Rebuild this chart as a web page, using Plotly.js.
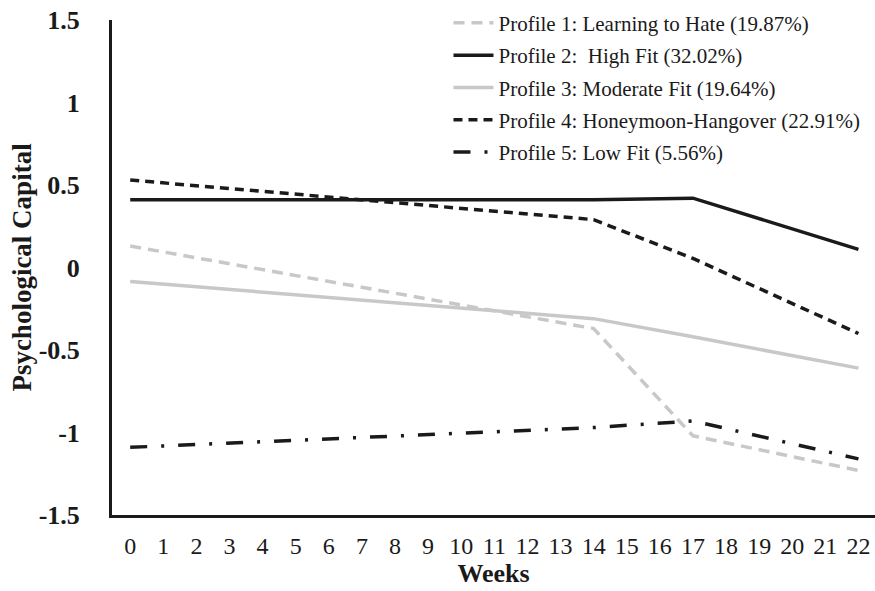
<!DOCTYPE html>
<html>
<head>
<meta charset="utf-8">
<script src="https://cdn.plot.ly/plotly-3.0.1.min.js"></script>
<style>html,body{margin:0;padding:0;background:#fff;}#chart{width:875px;height:591px;}</style>
</head>
<body>
<div id="chart"></div>
<script>
var weeks = [0, 14, 17, 22];
var tickWeeks = [0,1,2,3,4,5,6,7,8,9,10,11,12,13,14,15,16,17,18,19,20,21,22];
var seriesNames = [
  "Profile 1: Learning to Hate (19.87%)",
  "Profile 2:  High Fit (32.02%)",
  "Profile 3: Moderate Fit (19.64%)",
  "Profile 4: Honeymoon-Hangover (22.91%)",
  "Profile 5: Low Fit (5.56%)"
];
var profile1 = [0.13, -0.37, -1.02, -1.23];
var profile2 = [0.41, 0.41, 0.42, 0.11];
var profile3 = [-0.085, -0.31, -0.42, -0.61];
var profile4 = [0.53, 0.29, 0.055, -0.40];
var profile5 = [-1.09, -0.97, -0.93, -1.16];

var styles = [
  {color: "#c8c8c8", width: 3.5, dash: "11px,7px"},
  {color: "#1a1a1a", width: 3.5, dash: "solid"},
  {color: "#c8c8c8", width: 3.5, dash: "solid"},
  {color: "#1a1a1a", width: 3.5, dash: "9px,6px"},
  {color: "#1a1a1a", width: 3.5, dash: "17px,14px,3px,14px"}
];
var values = [profile1, profile2, profile3, profile4, profile5];
var traces = values.map(function(v, i){
  return {x: weeks, y: v, type: "scatter", mode: "lines", name: seriesNames[i],
          legendgroup: "g" + i, line: styles[i]};
});

var layout = {
  width: 875, height: 591,
  margin: {l: 112, r: 0, t: 20, b: 76},
  paper_bgcolor: "#fff", plot_bgcolor: "#fff",
  font: {family: "Liberation Serif, Times New Roman, serif", color: "#1a1a1a"},
  showlegend: true,
  legend: {x: 0.441, y: 1.035, xanchor: "left", yanchor: "top", bgcolor: "rgba(0,0,0,0)",
           font: {size: 21, family: "Liberation Serif, serif", color: "#1a1a1a"},
           tracegroupgap: 2, itemwidth: 40, traceorder: "grouped", borderwidth: 0},
  xaxis: {
    automargin: false,
    range: [-0.55, 22.5], tickmode: "array", tickvals: tickWeeks, ticktext: tickWeeks.map(String),
    showgrid: false, zeroline: false, showline: true, linecolor: "#1a1a1a", linewidth: 3,
    ticks: "", ticklabelstandoff: 7,
    tickfont: {size: 24, family: "Liberation Serif, serif", color: "#1a1a1a"},
    title: {text: "<b>Weeks</b>", font: {size: 26, family: "Liberation Serif, serif", color: "#1a1a1a"}, standoff: 4}
  },
  yaxis: {
    automargin: false,
    range: [-1.5, 1.5], tickmode: "array", tickvals: [-1.5,-1,-0.5,0,0.5,1,1.5],
    ticktext: ["<b>-1.5</b>","<b>-1</b>","<b>-0.5</b>","<b>0</b>","<b>0.5</b>","<b>1</b>","<b>1.5</b>"],
    showgrid: false, zeroline: false, showline: true, linecolor: "#1a1a1a", linewidth: 3,
    ticks: "", ticklabelstandoff: 24,
    tickfont: {size: 26, family: "Liberation Serif, serif", color: "#1a1a1a"},
    title: {text: "<b>Psychological Capital</b>", font: {size: 27, family: "Liberation Serif, serif", color: "#1a1a1a"}, standoff: 0}
  }
};
Plotly.newPlot("chart", traces, layout, {displayModeBar: false, staticPlot: true});
</script>
</body>
</html>
